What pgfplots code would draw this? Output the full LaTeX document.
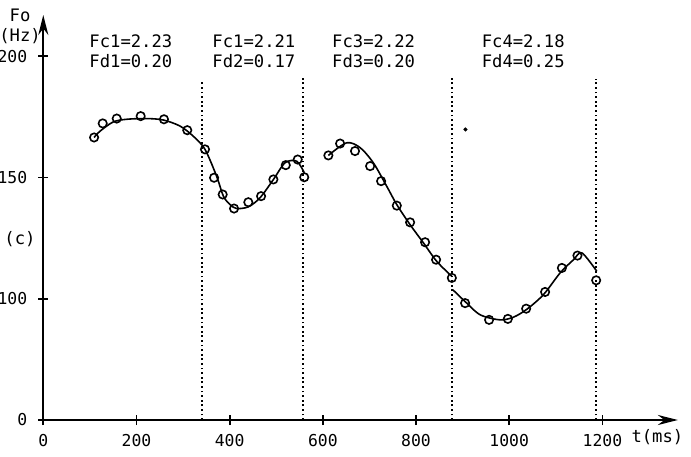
\documentclass[border=0pt]{standalone}
\usepackage{fontspec}
\setmainfont{DejaVu Sans Mono}
\usepackage{pgfplots}
\pgfplotsset{compat=1.18}
\usetikzlibrary{arrows.meta}

\begin{document}
\begin{tikzpicture}
\path[use as bounding box] (-21.65pt,-18pt) rectangle (323.85pt,210pt);
\begin{axis}[
    at={(0,0)}, anchor=south west,
    scale only axis, width=317.3pt, height=202.5pt,
    xmin=0, xmax=1362, ymin=50, ymax=217,
    axis lines=left,
    axis line style={line width=1.1pt, -{Stealth[length=10pt,width=5pt]}},
    xtick={0,200,400,600,800,1000,1200},
    ytick={50,100,150,200},
    yticklabels={0,100,150,200},
    tick align=center, major tick length=5pt,
    tick style={line width=0.9pt, black},
    ticklabel style={font=\fontsize{8.2}{10}\selectfont},
    /pgf/number format/assume math mode=true,
    /pgf/number format/1000 sep={},
    xticklabel style={yshift=-1pt},
    yticklabel style={xshift=-2pt},
    clip=false,
]
% segment boundaries (dotted)
\addplot[black, line width=0.9pt, dash pattern=on 0.9pt off 1.4pt] coordinates {(341,50) (341,189.3)};
\addplot[black, line width=0.9pt, dash pattern=on 0.9pt off 1.4pt] coordinates {(558,50) (558,192.1)};
\addplot[black, line width=0.9pt, dash pattern=on 0.9pt off 1.4pt] coordinates {(877,50) (877,190.9)};
\addplot[black, line width=0.9pt, dash pattern=on 0.9pt off 1.4pt] coordinates {(1187,50) (1187,190.5)};

% fitted contours
\addplot[black, line width=0.8pt, smooth] coordinates {
    (109,166.5) (121.8,169.1) (150,172.9) (179,174) (222,174.3) (257.6,173.7)
    (293.5,171.2) (322,167) (347,161.6) (372,150.5) (386.5,142.3) (401,138.8)
    (415,137.2) (440,137.9) (465,141.6) (494,149.2) (519,156.1) (544,156.7) (560,152)
};
\addplot[black, line width=0.8pt, smooth] coordinates {
    (611.8,159.1) (651,164.3) (680,162.3) (708.5,156) (737,146.4) (758.7,138.8)
    (787,130.6) (816,123) (844.5,115.4) (877,109.2)
};
\addplot[black, line width=0.8pt, smooth] coordinates {
    (879,103.7) (905,98.9) (937.5,93.4) (980,91.3) (1009,92.4) (1038,95.7)
    (1073.5,101.7) (1109,110.6) (1138,116.1) (1156,118.9) (1188,111.3)
};

% measured F0 points
\addplot[only marks, mark=o, mark size=2.1pt, mark options={line width=0.8pt, black, fill=white}] coordinates {
    (109,166.5) (127.5,172.3) (157.6,174.3) (209,175.3) (259,174) (309,169.5)
    (347,161.6) (366.5,149.9) (385,143) (409.4,137.2) (440,139.8) (467.4,142.3)
    (493.8,149.2) (520.4,155.1) (546,157.4) (560,150.1)
    (611.8,159.1) (637,164) (669,160.9) (701.4,154.7) (725,148.5) (758.7,138.4)
    (787.2,131.5) (819.4,123.3) (843,116.1) (876.8,108.6)
    (905.3,98.2) (956.8,91.3) (997,91.7) (1036.3,95.9) (1077,102.8) (1113,112.7)
    (1146.4,117.8) (1186.6,107.6)
};
\addplot[only marks, mark=*, mark size=0.8pt, black] coordinates {(906,169.8)};

\begin{scope}[font=\fontsize{8.6}{10}\selectfont]
\node[align=left] at (axis cs:188,202) {Fc1=2.23\\Fd1=0.20};
\node[align=left] at (axis cs:452,202) {Fc1=2.21\\Fd2=0.17};
\node[align=left] at (axis cs:709,202) {Fc3=2.22\\Fd3=0.20};
\node[align=left] at (axis cs:1030,202) {Fc4=2.18\\Fd4=0.25};
\node at (axis cs:-50,217) {Fo};
\node at (axis cs:-50,208.5) {(Hz)};
\node at (axis cs:-50,124.4) {(c)};
\node at (axis cs:1318,43) {t(ms)};
\end{scope}
\end{axis}
\end{tikzpicture}
\end{document}
